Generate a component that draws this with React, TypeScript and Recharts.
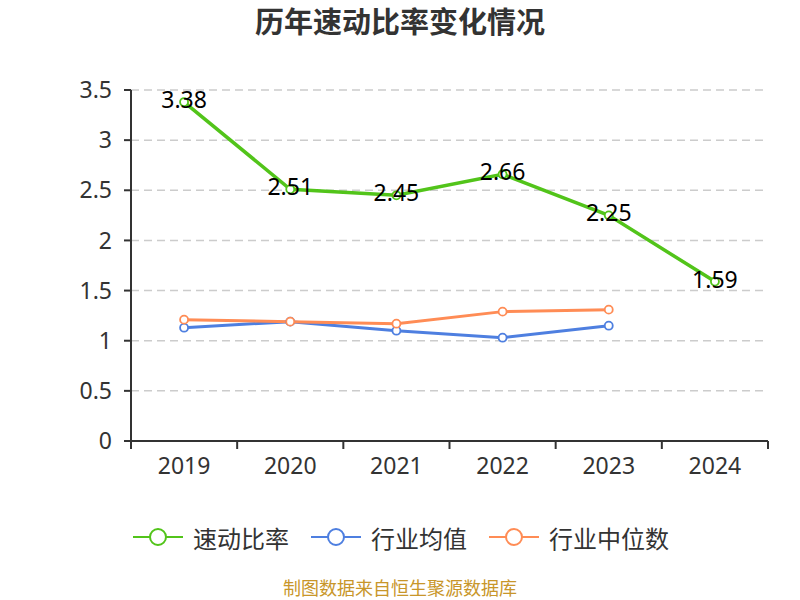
import React from "react";
import { LineChart, Line, XAxis, YAxis, CartesianGrid, LabelList } from "recharts";

const years = ["2019", "2020", "2021", "2022", "2023", "2024"];
const quickRatio = [3.38, 2.51, 2.45, 2.66, 2.25, 1.59];
const industryMean = [1.13, 1.19, 1.1, 1.03, 1.15, null];
const industryMedian = [1.21, 1.19, 1.17, 1.29, 1.31, null];
const yTicks = [0, 0.5, 1, 1.5, 2, 2.5, 3, 3.5];

const seriesNames = ["速动比率", "行业均值", "行业中位数"];
const colors = ["#52C41A", "#4E7FE0", "#FF8C55"];

const data = years.map((y, i) => ({
  year: y,
  quick: quickRatio[i],
  mean: industryMean[i],
  median: industryMedian[i],
}));

const FONT = "'Noto Sans', 'Noto Sans CJK SC', sans-serif";
const HALF_BAND = 637 / 6 / 2;

const XTick = (props: any) => {
  const { x, y, payload, index } = props;
  return (
    <g>
      <line x1={x - HALF_BAND} y1={y - 8} x2={x - HALF_BAND} y2={y} stroke="#333" strokeWidth={2} />
      {index === years.length - 1 && (
        <line x1={x + HALF_BAND} y1={y - 8} x2={x + HALF_BAND} y2={y} stroke="#333" strokeWidth={2} />
      )}
      <text x={x} y={y + 25} textAnchor="middle" fontSize={23} fill="#333" fontFamily={FONT}>
        {payload.value}
      </text>
    </g>
  );
};

const ValueLabel = (props: any) => {
  const { x, y, value } = props;
  return (
    <text x={x} y={y + 6} textAnchor="middle" fontSize={23} fill="#000" fontFamily={FONT}>
      {value}
    </text>
  );
};

const Dot = (color: string) => (props: any) => {
  const { cx, cy, value } = props;
  if (value == null || cx == null || cy == null) return <g />;
  return <circle cx={cx} cy={cy} r={4} fill="#fff" stroke={color} strokeWidth={1.8} />;
};

export default function App() {
  return (
    <div style={{ position: "absolute", left: 0, top: 0, width: 800, height: 600, background: "#fff", fontFamily: FONT }}>
      <div
        style={{
          position: "absolute",
          top: 2,
          left: 0,
          width: 800,
          textAlign: "center",
          fontSize: 29,
          fontWeight: "bold",
          color: "#333",
          lineHeight: "36px",
          fontFamily: "'Noto Sans CJK SC', sans-serif",
        }}
      >
        历年速动比率变化情况
      </div>
      <LineChart width={800} height={600} data={data} margin={{ top: 90, right: 32, left: 0, bottom: 119 }}>
        <CartesianGrid vertical={false} stroke="#ccc" strokeDasharray="8 5" strokeWidth={1.5} />
        <XAxis
          dataKey="year"
          height={40}
          padding={{ left: HALF_BAND, right: HALF_BAND }}
          axisLine={{ stroke: "#333", strokeWidth: 2 }}
          tickLine={false}
          tick={<XTick />}
          interval={0}
        />
        <YAxis
          width={131}
          domain={[0, 3.5]}
          ticks={yTicks}
          axisLine={{ stroke: "#333", strokeWidth: 2 }}
          tickLine={{ stroke: "#333", strokeWidth: 2 }}
          tickSize={7}
          tickMargin={12}
          tick={{ fontSize: 23, fill: "#333", fontFamily: FONT }}
          interval={0}
        />
        <Line
          type="linear"
          dataKey="mean"
          stroke={colors[1]}
          strokeWidth={3}
          dot={Dot(colors[1])}
          isAnimationActive={false}
        />
        <Line
          type="linear"
          dataKey="median"
          stroke={colors[2]}
          strokeWidth={3}
          dot={Dot(colors[2])}
          isAnimationActive={false}
        />
        <Line
          type="linear"
          dataKey="quick"
          stroke={colors[0]}
          strokeWidth={3.5}
          dot={Dot(colors[0])}
          isAnimationActive={false}
        >
          <LabelList dataKey="quick" content={<ValueLabel />} />
        </Line>
      </LineChart>
      <div style={{ position: "absolute", top: 520, left: 133, height: 34, display: "flex", alignItems: "center" }}>
        {seriesNames.map((n, i) => (
          <div key={n} style={{ display: "flex", alignItems: "center", marginRight: 22 }}>
            <svg width={50} height={20}>
              <line x1={0} y1={10} x2={50} y2={10} stroke={colors[i]} strokeWidth={2} />
              <circle cx={25} cy={10} r={8} fill="#fff" stroke={colors[i]} strokeWidth={2} />
            </svg>
            <span style={{ marginLeft: 10, fontSize: 24, color: "#333", fontFamily: "'Noto Sans CJK SC', sans-serif" }}>{n}</span>
          </div>
        ))}
      </div>
      <div
        style={{
          position: "absolute",
          top: 578,
          left: 0,
          width: 800,
          textAlign: "center",
          fontSize: 18,
          color: "#C8962A",
          lineHeight: "18px",
          fontFamily: "'Noto Sans CJK SC', sans-serif",
        }}
      >
        制图数据来自恒生聚源数据库
      </div>
    </div>
  );
}
